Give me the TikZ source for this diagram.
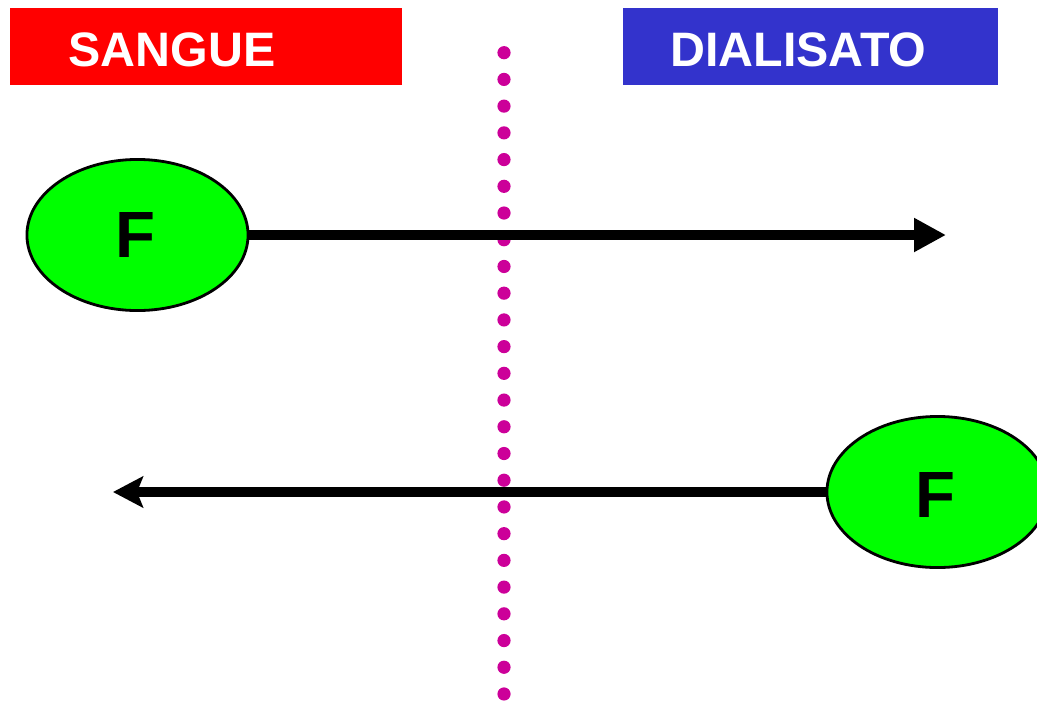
\documentclass[tikz,border=0pt]{standalone}
\usepackage{fontspec}
\setmainfont{Liberation Sans}
\usetikzlibrary{arrows.meta}
\usetikzlibrary{shapes.geometric}
\usetikzlibrary{positioning}
\definecolor{bloodred}{HTML}{FF0000}
\definecolor{dialblue}{HTML}{3333CC}
\definecolor{solutegreen}{HTML}{00FF00}
\definecolor{membrane}{HTML}{CC0099}

\begin{document}
\begin{tikzpicture}[x=0.01cm, y=-0.01cm,
        headbox/.style={inner sep=0pt, minimum width=3.92cm, minimum height=0.77cm},
        headtext/.style={anchor=base, text=white, font=\fontsize{13.75}{16}\selectfont\bfseries},
        solute/.style={ellipse, draw=black, line width=0.8pt, fill=solutegreen,
            minimum width=2.21cm, minimum height=1.51cm, inner sep=0pt},
        soluteletter/.style={anchor=base, font=\fontsize{18.6}{20}\selectfont\bfseries},
        flux/.style={line width=0.1cm}]
        \useasboundingbox (0,0) rectangle (1037,700);
        % Compartment headers
        \node[headbox, fill=bloodred] (sangue) at (206,46.5) {};
        \node[headtext] (sangueText) at (172,66) {SANGUE};
        \node[headbox, fill=dialblue, minimum width=3.75cm] (dialisato) at (810.5,46.5) {};
        \node[headtext] (dialisatoText) at (798.5,66) {DIALISATO};
        % Dotted membrane
        \foreach \i in {0,...,24} {
            \fill[membrane] (504,52.7+\i*26.72) circle (0.066cm);
        }
        % Solutes
        \node[solute] (soluteA) at (137.5,235) {};
        \node[soluteletter] (letterA) at (135,257) {F};
        \node[solute] (soluteB) at (937.5,492) {};
        \node[soluteletter] (letterB) at (935,517) {F};
        % Flux arrows
        \coordinate (tipA) at (946,235);
        \coordinate (tipB) at (113,492);
        \draw[flux, -{Triangle[length=0.32cm, width=0.32cm]}] (soluteA.east) -- (tipA);
        \draw[flux, -{Stealth[length=0.30cm, width=0.31cm, inset=0.06cm]}] (soluteB.west) -- (tipB);
\end{tikzpicture}
\end{document}
